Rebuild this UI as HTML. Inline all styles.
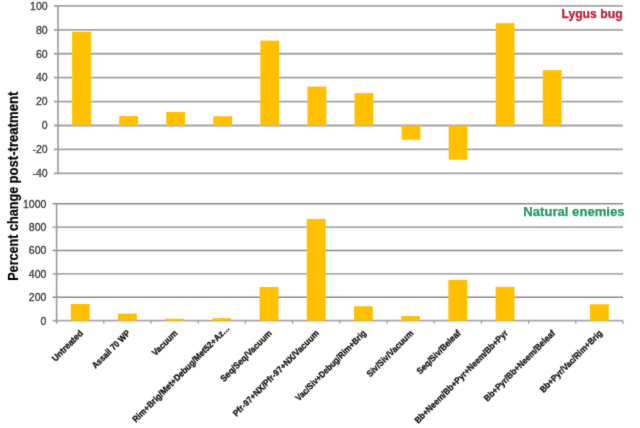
<!DOCTYPE html><html><head><meta charset="utf-8"><style>html,body{margin:0;padding:0;background:#fff;width:640px;height:428px;overflow:hidden}svg{display:block;will-change:transform}text{font-family:"Liberation Sans",sans-serif}</style></head><body>
<svg width="640" height="428" viewBox="0 0 640 428">
<defs><filter id="sf" x="-5%" y="-5%" width="110%" height="110%"><feConvolveMatrix order="3" kernelMatrix="1 2 1 2 24 2 1 2 1" preserveAlpha="false" edgeMode="none"/></filter></defs>
<rect width="640" height="428" fill="#fff"/>
<g filter="url(#sf)">
<line x1="54" y1="5.9" x2="622.8" y2="5.9" stroke="#a2a2a2" stroke-width="1.8"/>
<text x="47.6" y="9.7" font-size="10.5" fill="#404040" stroke="#404040" stroke-width="0.35" text-anchor="end" class="yl">100</text>
<line x1="54" y1="29.82" x2="622.8" y2="29.82" stroke="#a2a2a2" stroke-width="1.8"/>
<text x="47.6" y="33.62" font-size="10.5" fill="#404040" stroke="#404040" stroke-width="0.35" text-anchor="end" class="yl">80</text>
<line x1="54" y1="53.74" x2="622.8" y2="53.74" stroke="#a2a2a2" stroke-width="1.8"/>
<text x="47.6" y="57.54" font-size="10.5" fill="#404040" stroke="#404040" stroke-width="0.35" text-anchor="end" class="yl">60</text>
<line x1="54" y1="77.66" x2="622.8" y2="77.66" stroke="#a2a2a2" stroke-width="1.8"/>
<text x="47.6" y="81.46" font-size="10.5" fill="#404040" stroke="#404040" stroke-width="0.35" text-anchor="end" class="yl">40</text>
<line x1="54" y1="101.58" x2="622.8" y2="101.58" stroke="#a2a2a2" stroke-width="1.8"/>
<text x="47.6" y="105.38" font-size="10.5" fill="#404040" stroke="#404040" stroke-width="0.35" text-anchor="end" class="yl">20</text>
<line x1="54" y1="125.5" x2="622.8" y2="125.5" stroke="#a2a2a2" stroke-width="1.8"/>
<text x="47.6" y="129.3" font-size="10.5" fill="#404040" stroke="#404040" stroke-width="0.35" text-anchor="end" class="yl">0</text>
<line x1="54" y1="149.42" x2="622.8" y2="149.42" stroke="#a2a2a2" stroke-width="1.8"/>
<text x="47.6" y="153.22" font-size="10.5" fill="#404040" stroke="#404040" stroke-width="0.35" text-anchor="end" class="yl">-20</text>
<line x1="54" y1="173.34" x2="622.8" y2="173.34" stroke="#a2a2a2" stroke-width="1.8"/>
<text x="47.6" y="177.14" font-size="10.5" fill="#404040" stroke="#404040" stroke-width="0.35" text-anchor="end" class="yl">-40</text>
<line x1="58" y1="5" x2="58" y2="174.24" stroke="#9a9a9a" stroke-width="1.6"/>
<rect x="72.12" y="31.73" width="18.83" height="93.77" fill="#ffc000"/>
<rect x="119.19" y="116.05" width="18.83" height="9.45" fill="#ffc000"/>
<rect x="166.25" y="111.87" width="18.83" height="13.63" fill="#ffc000"/>
<rect x="213.32" y="116.29" width="18.83" height="9.21" fill="#ffc000"/>
<rect x="260.39" y="40.58" width="18.83" height="84.92" fill="#ffc000"/>
<rect x="307.45" y="86.51" width="18.83" height="38.99" fill="#ffc000"/>
<rect x="354.52" y="93.09" width="18.83" height="32.41" fill="#ffc000"/>
<rect x="401.59" y="125.5" width="18.83" height="14.23" fill="#ffc000"/>
<rect x="448.65" y="125.5" width="18.83" height="34.21" fill="#ffc000"/>
<rect x="495.72" y="23.12" width="18.83" height="102.38" fill="#ffc000"/>
<rect x="542.79" y="70.13" width="18.83" height="55.37" fill="#ffc000"/>
<text class="ttl" x="622.6" y="17.6" textLength="61.2" lengthAdjust="spacingAndGlyphs" font-size="12.6" font-weight="bold" fill="#b91830" stroke="#b91830" stroke-width="0.25" text-anchor="end">Lygus bug</text>
<line x1="52.6" y1="203.7" x2="623" y2="203.7" stroke="#8a8a8a" stroke-width="1.4"/>
<text x="46.4" y="207.5" font-size="10.5" fill="#404040" stroke="#404040" stroke-width="0.35" text-anchor="end" class="yl">1000</text>
<line x1="52.6" y1="227.1" x2="623" y2="227.1" stroke="#8a8a8a" stroke-width="1.4"/>
<text x="46.4" y="230.9" font-size="10.5" fill="#404040" stroke="#404040" stroke-width="0.35" text-anchor="end" class="yl">800</text>
<line x1="52.6" y1="250.5" x2="623" y2="250.5" stroke="#8a8a8a" stroke-width="1.4"/>
<text x="46.4" y="254.3" font-size="10.5" fill="#404040" stroke="#404040" stroke-width="0.35" text-anchor="end" class="yl">600</text>
<line x1="52.6" y1="273.9" x2="623" y2="273.9" stroke="#8a8a8a" stroke-width="1.4"/>
<text x="46.4" y="277.7" font-size="10.5" fill="#404040" stroke="#404040" stroke-width="0.35" text-anchor="end" class="yl">400</text>
<line x1="52.6" y1="297.3" x2="623" y2="297.3" stroke="#8a8a8a" stroke-width="1.4"/>
<text x="46.4" y="301.1" font-size="10.5" fill="#404040" stroke="#404040" stroke-width="0.35" text-anchor="end" class="yl">200</text>
<line x1="52.6" y1="320.7" x2="623" y2="320.7" stroke="#a6a6a6" stroke-width="1.8"/>
<text x="46.4" y="324.5" font-size="10.5" fill="#404040" stroke="#404040" stroke-width="0.35" text-anchor="end" class="yl">0</text>
<line x1="56.6" y1="202.8" x2="56.6" y2="323.7" stroke="#9a9a9a" stroke-width="1.6"/>
<line x1="103.8" y1="320.7" x2="103.8" y2="323.7" stroke="#9a9a9a" stroke-width="1.2"/>
<line x1="151" y1="320.7" x2="151" y2="323.7" stroke="#9a9a9a" stroke-width="1.2"/>
<line x1="198.2" y1="320.7" x2="198.2" y2="323.7" stroke="#9a9a9a" stroke-width="1.2"/>
<line x1="245.4" y1="320.7" x2="245.4" y2="323.7" stroke="#9a9a9a" stroke-width="1.2"/>
<line x1="292.6" y1="320.7" x2="292.6" y2="323.7" stroke="#9a9a9a" stroke-width="1.2"/>
<line x1="339.8" y1="320.7" x2="339.8" y2="323.7" stroke="#9a9a9a" stroke-width="1.2"/>
<line x1="387" y1="320.7" x2="387" y2="323.7" stroke="#9a9a9a" stroke-width="1.2"/>
<line x1="434.2" y1="320.7" x2="434.2" y2="323.7" stroke="#9a9a9a" stroke-width="1.2"/>
<line x1="481.4" y1="320.7" x2="481.4" y2="323.7" stroke="#9a9a9a" stroke-width="1.2"/>
<line x1="528.6" y1="320.7" x2="528.6" y2="323.7" stroke="#9a9a9a" stroke-width="1.2"/>
<line x1="575.8" y1="320.7" x2="575.8" y2="323.7" stroke="#9a9a9a" stroke-width="1.2"/>
<line x1="623" y1="320.7" x2="623" y2="323.7" stroke="#9a9a9a" stroke-width="1.2"/>
<rect x="70.76" y="303.97" width="18.88" height="16.73" fill="#ffc000"/>
<rect x="117.96" y="313.56" width="18.88" height="7.14" fill="#ffc000"/>
<rect x="165.16" y="318.71" width="18.88" height="1.99" fill="#ffc000"/>
<rect x="212.36" y="318.13" width="18.88" height="2.57" fill="#ffc000"/>
<rect x="259.56" y="287" width="18.88" height="33.7" fill="#ffc000"/>
<rect x="306.76" y="218.91" width="18.88" height="101.79" fill="#ffc000"/>
<rect x="353.96" y="306.19" width="18.88" height="14.51" fill="#ffc000"/>
<rect x="401.16" y="316.02" width="18.88" height="4.68" fill="#ffc000"/>
<rect x="448.36" y="279.98" width="18.88" height="40.72" fill="#ffc000"/>
<rect x="495.56" y="286.89" width="18.88" height="33.81" fill="#ffc000"/>
<rect x="589.96" y="304.32" width="18.88" height="16.38" fill="#ffc000"/>
<text class="ttl" x="624.6" y="216" textLength="101.3" lengthAdjust="spacingAndGlyphs" font-size="12.6" font-weight="bold" fill="#259660" stroke="#259660" stroke-width="0.25" text-anchor="end">Natural enemies</text>
<text class="xl" x="83.6" y="333.8" font-size="9" font-weight="bold" fill="#111111" stroke="#111111" stroke-width="0.3" text-anchor="end" textLength="39.9" lengthAdjust="spacingAndGlyphs" transform="rotate(-45 83.6 333.8)">Untreated</text>
<text class="xl" x="130.8" y="333.8" font-size="9" font-weight="bold" fill="#111111" stroke="#111111" stroke-width="0.3" text-anchor="end" textLength="49.95" lengthAdjust="spacingAndGlyphs" transform="rotate(-45 130.8 333.8)">Assail 70 WP</text>
<text class="xl" x="178" y="333.8" font-size="9" font-weight="bold" fill="#111111" stroke="#111111" stroke-width="0.3" text-anchor="end" textLength="31.76" lengthAdjust="spacingAndGlyphs" transform="rotate(-45 178 333.8)">Vacuum</text>
<text class="xl" x="230.2" y="328.8" font-size="9" font-weight="bold" fill="#111111" stroke="#111111" stroke-width="0.3" text-anchor="end" textLength="133.36" lengthAdjust="spacingAndGlyphs" transform="rotate(-45 230.2 328.8)">Rim+Brig/Met+Debug/Met52+Az…</text>
<text class="xl" x="272.4" y="333.8" font-size="9" font-weight="bold" fill="#111111" stroke="#111111" stroke-width="0.3" text-anchor="end" textLength="68.36" lengthAdjust="spacingAndGlyphs" transform="rotate(-45 272.4 333.8)">Seq/Seq/Vacuum</text>
<text class="xl" x="319.6" y="333.8" font-size="9" font-weight="bold" fill="#111111" stroke="#111111" stroke-width="0.3" text-anchor="end" textLength="117.65" lengthAdjust="spacingAndGlyphs" transform="rotate(-45 319.6 333.8)">Pfr-97+NX/Pfr-97+NX/Vacuum</text>
<text class="xl" x="366.8" y="333.8" font-size="9" font-weight="bold" fill="#111111" stroke="#111111" stroke-width="0.3" text-anchor="end" textLength="95.85" lengthAdjust="spacingAndGlyphs" transform="rotate(-45 366.8 333.8)">Vac/Siv+Debug/Rim+Brig</text>
<text class="xl" x="414" y="333.8" font-size="9" font-weight="bold" fill="#111111" stroke="#111111" stroke-width="0.3" text-anchor="end" textLength="61.85" lengthAdjust="spacingAndGlyphs" transform="rotate(-45 414 333.8)">Siv/Siv/Vacuum</text>
<text class="xl" x="461.2" y="333.8" font-size="9" font-weight="bold" fill="#111111" stroke="#111111" stroke-width="0.3" text-anchor="end" textLength="57.75" lengthAdjust="spacingAndGlyphs" transform="rotate(-45 461.2 333.8)">Seq/Siv/Beleaf</text>
<text class="xl" x="508.4" y="333.8" font-size="9" font-weight="bold" fill="#111111" stroke="#111111" stroke-width="0.3" text-anchor="end" textLength="127.61" lengthAdjust="spacingAndGlyphs" transform="rotate(-45 508.4 333.8)">Bb+Neem/Bb+Pyr+Neem/Bb+Pyr</text>
<text class="xl" x="555.6" y="333.8" font-size="9" font-weight="bold" fill="#111111" stroke="#111111" stroke-width="0.3" text-anchor="end" textLength="96.29" lengthAdjust="spacingAndGlyphs" transform="rotate(-45 555.6 333.8)">Bb+Pyr/Bb+Neem/Beleaf</text>
<text class="xl" x="602.8" y="333.8" font-size="9" font-weight="bold" fill="#111111" stroke="#111111" stroke-width="0.3" text-anchor="end" textLength="84.01" lengthAdjust="spacingAndGlyphs" transform="rotate(-45 602.8 333.8)">Bb+Pyr/Vac/Rim+Brig</text>
<text class="tt" x="17.8" y="280.8" font-size="14.2" font-weight="bold" fill="#000" stroke="#000" stroke-width="0.2" textLength="94.0" lengthAdjust="spacingAndGlyphs" transform="rotate(-90 17.8 280.8)">Percent change</text>
<text class="tt" x="17.8" y="183.6" font-size="14.2" font-weight="bold" fill="#000" stroke="#000" stroke-width="0.2" textLength="92.0" lengthAdjust="spacingAndGlyphs" transform="rotate(-90 17.8 183.6)">post-treatment</text>
</g>
</svg></body></html>
